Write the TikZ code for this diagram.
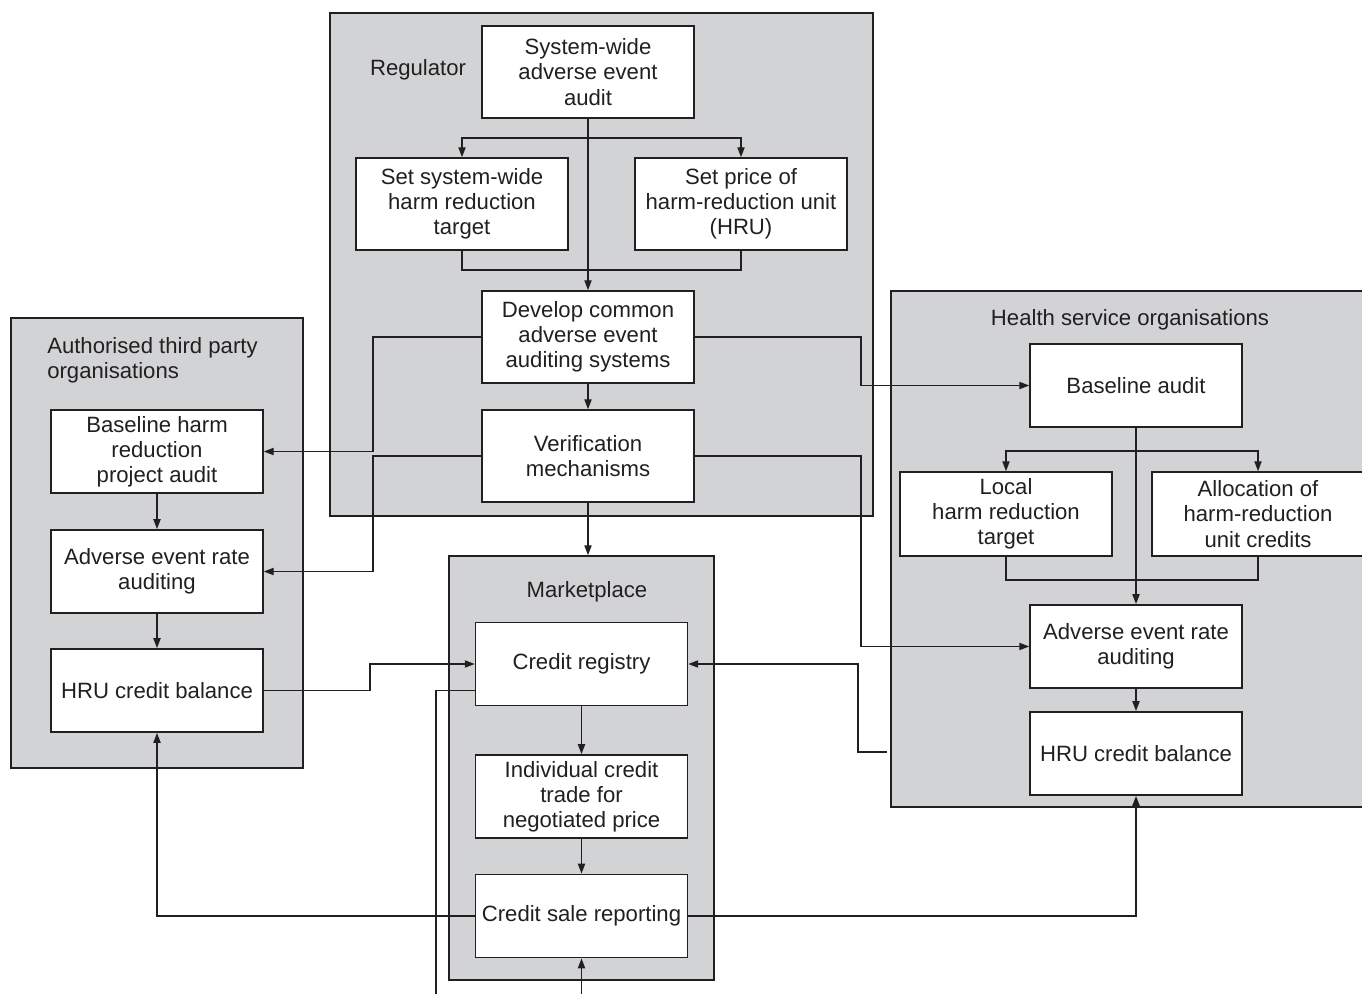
\documentclass[tikz,border=0pt]{standalone}
\usepackage{fontspec}
\setmainfont{Liberation Sans}
\usetikzlibrary{arrows.meta,calc}
\definecolor{ink}{RGB}{35,31,32}
\definecolor{panelgray}{RGB}{210,211,213}
\begin{document}
\begin{tikzpicture}[x=0.75pt,y=-0.75pt,
  every node/.style={font=\fontsize{16.6}{18.9}\selectfont, text=ink},
  panel/.style={draw=ink, fill=panelgray, line width=1.1pt, inner sep=0pt},
  bigbox/.style={draw=ink, fill=white, line width=1.1pt, align=center, inner sep=0pt, minimum width=159pt, minimum height=69pt},
  smallbox/.style={draw=ink, fill=white, line width=1.1pt, align=center, inner sep=0pt, minimum width=159pt, minimum height=62.5pt},
  conn/.style={draw=ink, line width=1.1pt},
  arr/.style={conn, -{Triangle[length=7.5pt,width=5.4pt]}},
  arr2/.style={conn, {Triangle[length=7.5pt,width=5.4pt]}-{Triangle[length=7.5pt,width=5.4pt]}},
  plabel/.style={inner sep=0pt}
]
\useasboundingbox (0,0) rectangle (1362,994);
\clip (0,0) rectangle (1362,994);
\fill[white] (0,0) rectangle (1362,994);

% panels
\node[panel, minimum width=407.25pt, minimum height=377.25pt] (reg) at (601.5,264.5) {};
\node[panel, minimum width=219pt, minimum height=337.5pt] (atp) at (157,543) {};
\node[panel, minimum width=198.75pt, minimum height=318pt] (mkt) at (581.5,768) {};
\node[panel, minimum width=359.25pt, minimum height=387pt] (hso) at (1130.5,549) {};

% panel labels
\node[plabel] (reglab) at (418,70) {Regulator};
\node[plabel, anchor=west, align=left] (atplab) at (47,360.5) {Authorised third party\\organisations};
\node[plabel] (mktlab) at (587,592) {Marketplace};
\node[plabel] (hsolab) at (1130,320) {Health service organisations};

% regulator boxes
\node[bigbox] (swa) at (588,72) {System-wide\\adverse event\\audit};
\node[bigbox] (ssw) at (462,204) {Set system-wide\\harm reduction\\target};
\node[bigbox] (spr) at (741,204) {Set price of\\harm-reduction unit\\(HRU)};
\node[bigbox] (dev) at (588,337) {Develop common\\adverse event\\auditing systems};
\node[bigbox] (ver) at (588,456) {Verification\\mechanisms};

% authorised third party boxes
\node[smallbox] (bhp) at (157,451.5) {Baseline harm\\reduction\\project audit};
\node[smallbox] (ael) at (157,571.5) {Adverse event rate\\auditing};
\node[smallbox] (hrul) at (157,690.5) {HRU credit balance};

% marketplace boxes
\node[smallbox] (crg) at (581.5,664) {Credit registry};
\node[smallbox] (ict) at (581.5,796.5) {Individual credit\\trade for\\negotiated price};
\node[smallbox] (csr) at (581.5,916) {Credit sale reporting};

% health service boxes
\node[smallbox] (bau) at (1136,385.5) {Baseline audit};
\node[smallbox, minimum height=63pt] (loc) at (1006,514) {Local\\harm reduction\\target};
\node[smallbox, minimum height=63pt] (alc) at (1258,514) {Allocation of\\harm-reduction\\unit credits};
\node[smallbox] (aer) at (1136,646.5) {Adverse event rate\\auditing};
\node[smallbox] (hrur) at (1136,753.5) {HRU credit balance};

% helper coordinates
\coordinate (rb) at (588,138);
\coordinate (rj) at (588,270);
\coordinate (xl) at (373,0);
\coordinate (xr) at (861,0);
\coordinate (xm) at (370,0);
\coordinate (xh) at (858,0);
\coordinate (hs) at (887,752);
\coordinate (bl) at (436,1000);
\coordinate (bm) at (582,1000);
\coordinate (hb) at (1136,451);
\coordinate (hj) at (1136,580);

% regulator connectors
\draw[arr] (swa.south) -- (dev.north);
\draw[arr2] (ssw.north) -- (ssw.north |- rb) -- (spr.north |- rb) -- (spr.north);
\draw[conn] (ssw.south) -- (ssw.south |- rj) -- (spr.south |- rj) -- (spr.south);
\draw[arr] (dev.south) -- (ver.north);
\draw[arr] (ver.south) -- (ver.south |- mkt.north);

% regulator to third party
\draw[arr] (dev.west) -| (xl |- bhp.east) -- (bhp.east);
\draw[arr] (ver.west) -| (xl |- ael.east) -- (ael.east);

% regulator to health service
\draw[arr] (dev.east) -| (xr |- bau.west) -- (bau.west);
\draw[arr] (ver.east) -| (xr |- aer.west) -- (aer.west);

% third party chain
\draw[arr] (bhp.south) -- (ael.north);
\draw[arr] (ael.south) -- (hrul.north);
\draw[arr] (hrul.east) -| (xm |- crg.west) -- (crg.west);

% marketplace
\draw[arr] (crg.south) -- (ict.north);
\draw[arr] (ict.south) -- (csr.north);
\draw[conn] (crg.south west) ++(0,-16) -| (bl);
\draw[arr] (csr.south |- bm) -- (csr.south);
\draw[arr] (csr.west) -| (hrul.south);
\draw[arr] (csr.east) -| (hrur.south);
\draw[arr] (hs) -| (xh |- crg.east) -- (crg.east);

% health service chain
\draw[arr] (bau.south) -- (aer.north);
\draw[arr2] (loc.north) -- (loc.north |- hb) -- (alc.north |- hb) -- (alc.north);
\draw[conn] (loc.south) -- (loc.south |- hj) -- (alc.south |- hj) -- (alc.south);
\draw[arr] (aer.south) -- (hrur.north);
\end{tikzpicture}
\end{document}
